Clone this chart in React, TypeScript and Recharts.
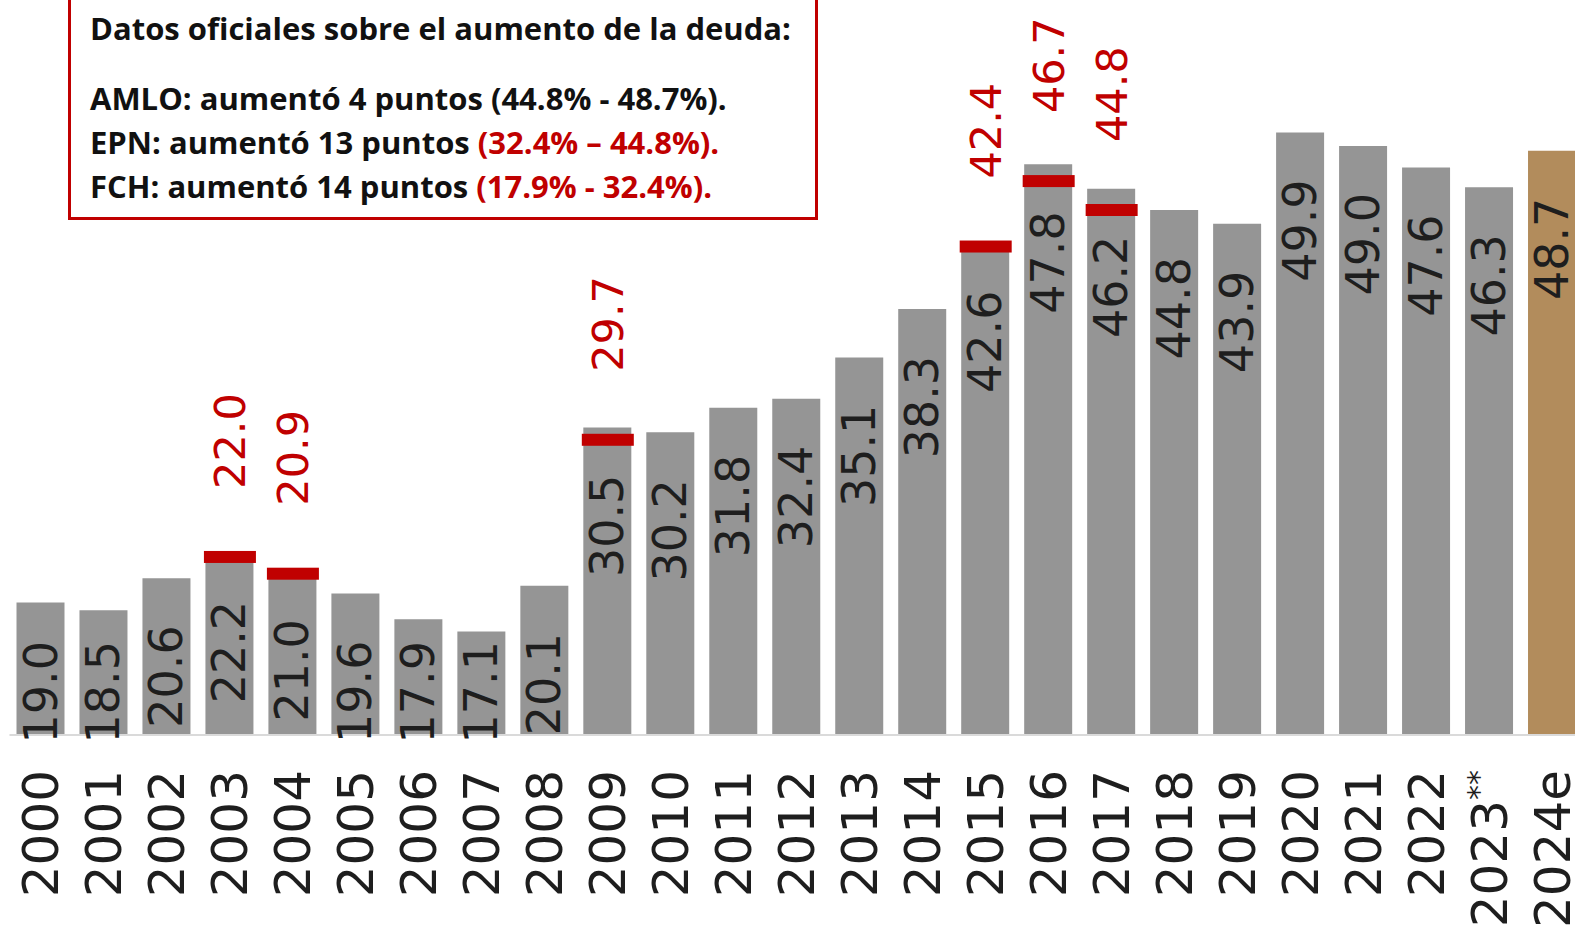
import { ComposedChart, Bar, Line, XAxis, YAxis, Cell, LabelList } from "recharts";

const years = ["2000", "2001", "2002", "2003", "2004", "2005", "2006", "2007", "2008", "2009", "2010", "2011", "2012", "2013", "2014", "2015", "2016", "2017", "2018", "2019", "2020", "2021", "2022", "2023**", "2024e"];
const debt = [19.0, 18.5, 20.6, 22.2, 21.0, 19.6, 17.9, 17.1, 20.1, 30.5, 30.2, 31.8, 32.4, 35.1, 38.3, 42.6, 47.8, 46.2, 44.8, 43.9, 49.9, 49.0, 47.6, 46.3, 48.7];
// earlier official figures (red marks)
const previous: (number | null)[] = [null, null, null, 22.0, 20.9, null, null, null, null, 29.7, null, null, null, null, null, 42.4, 46.7, 44.8, null, null, null, null, null, null, null];

const chartData = years.map((year, i) => ({ year, debt: debt[i], previous: previous[i] }));

const RED = "#c00000";
const GRAY = "#959595";
const TAN = "#b28c5c";

const BarValue = (props: any) => {
  const { x, y, width, value } = props;
  const cx = x + width / 2;
  // keep short bars' labels from running past the baseline
  const ty = Math.min(y + 47, 641);
  return (
    <text x={cx} y={ty} transform={`rotate(-90, ${cx}, ${ty})`} textAnchor="end" dominantBaseline="central" fontFamily="DejaVu Sans" fontSize={46} fill="#1e1e1e">
      {value.toFixed(1)}
    </text>
  );
};

const PrevMark = (props: any) => {
  const { cx, cy, payload } = props;
  if (payload.previous == null) return <g key={payload.year} />;
  const ty = cy - 68;
  return (
    <g key={payload.year}>
      <rect x={cx - 26} y={cy - 6} width={52} height={12} fill={RED} />
      <text x={cx} y={ty} transform={`rotate(-90, ${cx}, ${ty})`} textAnchor="start" dominantBaseline="central" fontFamily="DejaVu Sans" fontSize={43} fill={RED}>
        {payload.previous.toFixed(1)}
      </text>
    </g>
  );
};

const YearTick = (props: any) => {
  const { x, payload } = props;
  const ty = 770;
  const label: string = payload.value;
  const stars = label.endsWith("**");
  return (
    <text x={x} y={ty} transform={`rotate(-90, ${x}, ${ty})`} textAnchor="end" dominantBaseline="central" fontFamily="DejaVu Sans" fontSize={50} fill="#1e1e1e">
      {stars ? label.slice(0, -2) : label}
      {stars && (
        <tspan fontSize={30} dy={-12}>
          **
        </tspan>
      )}
    </text>
  );
};

export default function App() {
  return (
    <div style={{ position: "absolute", left: 0, top: 0, width: 1575, height: 930, overflow: "hidden", background: "#fff" }}>
      <ComposedChart width={1584} height={930} data={chartData} margin={{ top: 0, right: 0, bottom: 0, left: 9.5 }} barCategoryGap={0}>
        <XAxis dataKey="year" interval={0} height={195} tick={<YearTick />} tickLine={false} axisLine={{ stroke: "#dadada", strokeWidth: 2 }} />
        <YAxis hide domain={[10.3, 58.6]} />
        <Bar dataKey="debt" barSize={48} isAnimationActive={false}>
          {chartData.map((d, i) => (
            <Cell key={d.year} fill={i === chartData.length - 1 ? TAN : GRAY} />
          ))}
          <LabelList dataKey="debt" content={<BarValue />} />
        </Bar>
        <Line dataKey="previous" stroke="none" dot={<PrevMark />} activeDot={false} isAnimationActive={false} />
      </ComposedChart>
      <div style={{ position: "absolute", left: 68, top: -3, width: 744, height: 217, border: `3px solid ${RED}`, background: "#fff", fontFamily: "Open Sans", fontWeight: 700, fontSize: 31, color: "#111", lineHeight: "44px" }}>
        <div style={{ position: "absolute", left: 19, top: 6, whiteSpace: "nowrap" }}>Datos oficiales sobre el aumento de la deuda:</div>
        <div style={{ position: "absolute", left: 19, top: 76, whiteSpace: "nowrap" }}>
          AMLO: aumentó 4 puntos (44.8% - 48.7%).
          <br />
          EPN: aumentó 13 puntos <span style={{ color: RED }}>(32.4% – 44.8%).</span>
          <br />
          FCH: aumentó 14 puntos <span style={{ color: RED }}>(17.9% - 32.4%).</span>
        </div>
      </div>
    </div>
  );
}
